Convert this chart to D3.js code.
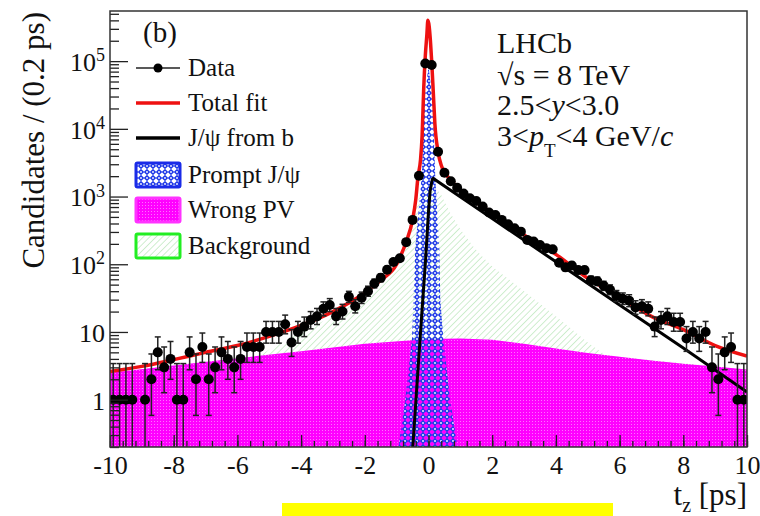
<!DOCTYPE html>
<html>
<head>
<meta charset="utf-8">
<script src="https://cdn.jsdelivr.net/npm/d3@7"></script>
<style>
body { margin: 0; background: #fff; }
svg { display: block; }
</style>
</head>
<body>
<script>
// data points (bin centres, 0.2 ps bins) and counts
var dataT = [-9.9,-9.7,-9.5,-9.3,-8.9,-8.7,-8.5,-8.3,-8.1,-7.9,-7.7,-7.5,-7.3,-7.1,-6.9,-6.7,-6.5,-6.3,-6.1,-5.9,
             -5.7,-5.5,-5.3,-5.1,-4.9,-4.7,-4.5,-4.3,-4.1,-3.9,-3.7,-3.5,-3.3,-3.1,-2.9,-2.7,-2.5,-2.3,-2.1,-1.9,
             -1.7,-1.5,-1.3,-1.1,-0.9,-0.7,-0.5,-0.3,-0.1,
             0.1,0.3,0.5,0.7,0.9,1.1,1.3,1.5,1.7,1.9,2.1,2.3,2.5,2.7,2.9,3.1,3.3,3.5,3.7,3.9,
             4.1,4.3,4.5,4.7,4.9,5.1,5.3,5.5,5.7,5.9,6.1,6.3,6.5,6.7,6.9,7.1,7.3,7.5,7.7,7.9,
             8.1,8.3,8.5,8.7,8.9,9.1,9.3,9.5,9.7,9.9];
var dataN = [1,1,1,1,1,2,5,3,4,1,1,5,2,6,2,3,5,4,3,4,
             6,6,6,10,10,10,13,7,10,12,15,17,22,25,17,20,33,24,32,40,
             52,63,83,108,123,212,452,2030,92500,
             87500,4590,2250,1680,1350,1110,944,860,710,580,535,452,390,340,303,229,216,193,173,166,
             105,90,96,82,82,58,56,48,42,34,31,29,23,24,22,12,15,17,14,14,
             8,10,8,10,3,2,5,6,1,1];

// total fit
var fitT = [-10,-9,-8,-7,-6,-5,-4,-3,-2,-1.5,-1,-0.9,-0.7,-0.5,-0.4,-0.33,-0.25,-0.2,-0.15,-0.1,-0.05,-0.02,
            0.02,0.06,0.1,0.15,0.2,0.3,0.4,0.5,0.7,1,2,3,4,5,6,7,8,9,10];
var fitV = [2.6,3.1,3.9,5.0,6.3,8.6,12.5,20,38,58,100,125,215,452,900,1960,3500,8000,40000,120000,250000,400000,
            330000,200000,100000,35000,12000,4600,2900,2300,1750,1250,570,270,140,62,33,17,10.8,6.3,4.4];

// J/psi from b
var fromBT = [-0.5,-0.4,-0.3,-0.2,-0.1,0,0.05,0.12,0.15,2,4,6,8,10];
var fromBV = [0.18,0.9,4.5,22,100,600,1200,1800,1850,472,109,25,5.8,1.3];

// prompt J/psi
var promptT = [-0.94,-0.73,-0.52,-0.47,-0.42,-0.21,-0.13,0,0.13,0.21,0.34,0.37,0.47,0.68,0.91];
var promptV = [0.2,1,7.6,30,163,2100,26500,85000,26500,2100,163,30,7.6,1,0.2];

// wrong PV
var wpvT = [-10,-8,-6,-4,-2,0,1,2,3,4,5,6,7,8,9,10];
var wpvV = [2.5,3.2,4.1,5.2,6.7,7.9,8.0,7.7,6.7,5.7,4.9,4.3,3.8,3.4,3.1,2.8];

// background (stacked on wrong PV)
var bkgT = [-10,-6,-5.3,-5,-4,-3,-2,-1.5,-1,-0.8,-0.6,-0.5,-0.4,-0.3,-0.2,0,0.2,0.37,0.68,1,1.4,1.62,
            2,2.5,3,3.5,4,4.5,5,5.6,6,10];
var bkgV = [2.5,4.1,4.4,5.5,10,17,33,50,88,130,240,380,650,950,1200,1400,1350,1130,575,330,185,140,
            93,61,40,26,17,11,7,4.4,4.3,2.8];

var xTicks = [-10,-8,-6,-4,-2,0,2,4,6,8,10];
var yTicks = [1,10,100,1000,10000,100000];
var legendLabels = ["Data", "Total fit", "J/\u03c8 from b", "Prompt J/\u03c8", "Wrong PV", "Background"];

var W = 760, H = 516;
var box = { left: 110, right: 747, top: 11, bottom: 447 };
var FONT = "'Liberation Serif', 'Times New Roman', serif";

var svg = d3.select("body").append("svg").attr("width", W).attr("height", H);
svg.append("rect").attr("width", W).attr("height", H).attr("fill", "#fff");

var x = d3.scaleLinear().domain([-10, 10]).range([box.left, box.right]);
var y = d3.scaleLog().domain([0.2, 5.5e5]).range([box.bottom, box.top]);
var yc = function(v) { return Math.min(y(Math.max(v, 0.05)), box.bottom + 5); };

var defs = svg.append("defs");
defs.append("clipPath").attr("id", "clip").append("rect")
	.attr("x", box.left).attr("y", box.top)
	.attr("width", box.right - box.left).attr("height", box.bottom - box.top);

var hatch = defs.append("pattern").attr("id", "hatch").attr("patternUnits", "userSpaceOnUse")
	.attr("width", 4.5).attr("height", 4.5).attr("patternTransform", "rotate(45)");
hatch.append("line").attr("x1", 0).attr("y1", 0).attr("x2", 0).attr("y2", 4.5)
	.attr("stroke", "#a8e0a8").attr("stroke-width", 1.1);

var mag = defs.append("pattern").attr("id", "mag").attr("patternUnits", "userSpaceOnUse")
	.attr("width", 3).attr("height", 3);
mag.append("rect").attr("width", 3).attr("height", 3).attr("fill", "#ff00ff");
mag.append("rect").attr("x", 1).attr("y", 1).attr("width", 1).attr("height", 1).attr("fill", "#ff70ff");

var cross = defs.append("pattern").attr("id", "cross").attr("patternUnits", "userSpaceOnUse")
	.attr("width", 6).attr("height", 6);
cross.append("polygon").attr("points", "3,-0.2 6.2,3 3,6.2 -0.2,3").attr("fill", "#1e38e8");
cross.append("circle").attr("cx", 3).attr("cy", 3).attr("r", 0.9).attr("fill", "#ffffff");

var zip = function(ts, vs) { return ts.map(function(t, i) { return { t: t, v: vs[i] }; }); };

var plot = svg.append("g").attr("clip-path", "url(#clip)");

var area = d3.area().x(function(d) { return x(d.t); })
	.y0(box.bottom).y1(function(d) { return yc(d.v); });
var line = d3.line().x(function(d) { return x(d.t); }).y(function(d) { return yc(d.v); });

plot.append("path").datum(zip(bkgT, bkgV)).attr("d", area).attr("fill", "url(#hatch)");
plot.append("path").datum(zip(wpvT, wpvV)).attr("d", area).attr("fill", "url(#mag)");
plot.append("path").datum(zip(promptT, promptV)).attr("d", area).attr("fill", "url(#cross)");
plot.append("path").datum(zip(fromBT, fromBV)).attr("d", line)
	.attr("fill", "none").attr("stroke", "#000").attr("stroke-width", 3);
plot.append("path").datum(zip(fitT, fitV)).attr("d", line.curve(d3.curveMonotoneX))
	.attr("fill", "none").attr("stroke", "#ee1111").attr("stroke-width", 3.5);

// data with poisson-ish error bars
var pts = zip(dataT, dataN);
var eb = plot.append("g").selectAll("g").data(pts).enter().append("g");
var lo = function(d) { return yc(d.v - Math.sqrt(d.v)); };
var hi = function(d) { return yc(d.v + Math.sqrt(d.v + 1) + 1); };
eb.append("line").attr("x1", function(d) { return x(d.t); }).attr("x2", function(d) { return x(d.t); })
	.attr("y1", lo).attr("y2", hi).attr("stroke", "#222").attr("stroke-width", 1.5);
eb.append("line").attr("x1", function(d) { return x(d.t) - 3; }).attr("x2", function(d) { return x(d.t) + 3; })
	.attr("y1", hi).attr("y2", hi).attr("stroke", "#222").attr("stroke-width", 1.5);
eb.append("line").attr("x1", function(d) { return x(d.t) - 3; }).attr("x2", function(d) { return x(d.t) + 3; })
	.attr("y1", lo).attr("y2", lo).attr("stroke", "#222").attr("stroke-width", 1.5);
eb.append("circle").attr("cx", function(d) { return x(d.t); }).attr("cy", function(d) { return y(d.v); })
	.attr("r", 5).attr("fill", "#000");

// axes, ticks inside the frame as in ROOT
var minorX = d3.range(-10, 10.01, 0.4).map(function(v) { return +v.toFixed(1); });
svg.append("g").attr("transform", "translate(0," + box.bottom + ")")
	.call(d3.axisBottom(x).tickValues(minorX).tickSizeInner(-6).tickSizeOuter(0).tickFormat(""))
	.call(function(g) { g.select(".domain").remove(); g.selectAll("line").attr("stroke", "#222").attr("stroke-width", 1.3); });
svg.append("g").attr("transform", "translate(0," + box.bottom + ")")
	.call(d3.axisBottom(x).tickValues(xTicks).tickSizeInner(-12).tickSizeOuter(0).tickPadding(9).tickFormat(d3.format("d")))
	.call(function(g) {
		g.select(".domain").remove();
		g.selectAll("line").attr("stroke", "#222").attr("stroke-width", 1.3);
		g.selectAll("text").attr("font-size", 26)
			.text(function(d) { return String(d).replace("\u2212", "-"); });
	});

var minorY = [];
yTicks.concat([1e6]).forEach(function(dec) {
	[2,3,4,5,6,7,8,9].forEach(function(k) { minorY.push(k * dec / 10); });
});
minorY = minorY.filter(function(v) { return v >= 0.2 && v <= 5.5e5; });
svg.append("g").attr("transform", "translate(" + box.left + ",0)")
	.call(d3.axisLeft(y).tickValues(minorY).tickSizeInner(-9).tickSizeOuter(0).tickFormat(""))
	.call(function(g) { g.select(".domain").remove(); g.selectAll("line").attr("stroke", "#222").attr("stroke-width", 1.3); });
svg.append("g").attr("transform", "translate(" + box.left + ",0)")
	.call(d3.axisLeft(y).tickValues(yTicks).tickSizeInner(-18).tickSizeOuter(0).tickPadding(5).tickFormat(""))
	.call(function(g) {
		g.select(".domain").remove();
		g.selectAll("line").attr("stroke", "#222").attr("stroke-width", 1.3);
		g.selectAll(".tick text").attr("font-size", 26)
			.attr("dy", "0.36em")
			.each(function(d) {
				var e = Math.round(Math.log10(d));
				var t = d3.select(this);
				if (e < 2) { t.text(String(d)); return; }
				t.append("tspan").text("10");
				t.append("tspan").attr("font-size", 18).attr("dy", "-0.55em").text(String(e));
			});
	});

svg.append("rect").attr("x", box.left).attr("y", box.top)
	.attr("width", box.right - box.left).attr("height", box.bottom - box.top)
	.attr("fill", "none").attr("stroke", "#333").attr("stroke-width", 1.5);

// axis titles
svg.append("text").attr("transform", "translate(44,12) rotate(-90)").attr("text-anchor", "end")
	.attr("font-size", 31).text("Candidates / (0.2 ps)");
var xt = svg.append("text").attr("x", box.right).attr("y", 505).attr("text-anchor", "end").attr("font-size", 31);
xt.append("tspan").text("t");
xt.append("tspan").attr("font-size", 20).attr("dy", 7).text("z");
xt.append("tspan").attr("dy", -7).text(" [ps]");

// legend
svg.append("text").attr("x", 143).attr("y", 42).attr("font-size", 29).text("(b)");
var lg = svg.append("g");
var rows = [68, 103, 138, 175, 210, 246];
legendLabels.forEach(function(lab, i) {
	var r = lg.append("g").attr("transform", "translate(0," + rows[i] + ")");
	if (i === 0) {
		r.append("line").attr("x1", 136).attr("x2", 180).attr("stroke", "#222").attr("stroke-width", 1.5);
		r.append("circle").attr("cx", 158).attr("r", 4.5).attr("fill", "#000");
	} else if (i === 1) {
		r.append("line").attr("x1", 136).attr("x2", 180).attr("stroke", "#ee1111").attr("stroke-width", 3.5);
	} else if (i === 2) {
		r.append("line").attr("x1", 136).attr("x2", 180).attr("stroke", "#000").attr("stroke-width", 3.5);
	} else {
		var fills = { 3: "url(#cross)", 4: "url(#mag)", 5: "url(#hatch)" };
		var strokes = { 3: "#1a2be8", 4: "#ff33ff", 5: "#22ee22" };
		r.append("rect").attr("x", 136).attr("y", -12).attr("width", 44).attr("height", 24).attr("fill", "#fff");
		r.append("rect").attr("x", 136).attr("y", -12).attr("width", 44).attr("height", 24).attr("rx", 1.5)
			.attr("fill", fills[i]).attr("stroke", strokes[i]).attr("stroke-width", 3);
	}
	r.append("text").attr("x", 188).attr("y", 8).attr("font-size", 25).text(lab);
});

// experiment label
var info = svg.append("g").attr("font-size", 30);
info.append("text").attr("x", 497).attr("y", 53).text("LHCb");
info.append("text").attr("x", 497).attr("y", 85).text("\u221As = 8 TeV");
var l3 = info.append("text").attr("x", 497).attr("y", 115);
l3.append("tspan").text("2.5<");
l3.append("tspan").attr("font-style", "italic").text("y");
l3.append("tspan").text("<3.0");
var l4 = info.append("text").attr("x", 497).attr("y", 146);
l4.append("tspan").text("3<");
l4.append("tspan").attr("font-style", "italic").text("p");
l4.append("tspan").attr("font-size", 19).attr("dy", 11).text("T");
l4.append("tspan").attr("dy", -11).text("<4 GeV/");
l4.append("tspan").attr("font-style", "italic").text("c");

svg.append("rect").attr("x", 282).attr("y", 503).attr("width", 331).attr("height", 13).attr("fill", "#ffff00");

// serif everywhere, set inline so nothing overrides it
svg.selectAll("text").style("font-family", FONT).style("fill", "#111");
</script>
</body>
</html>
